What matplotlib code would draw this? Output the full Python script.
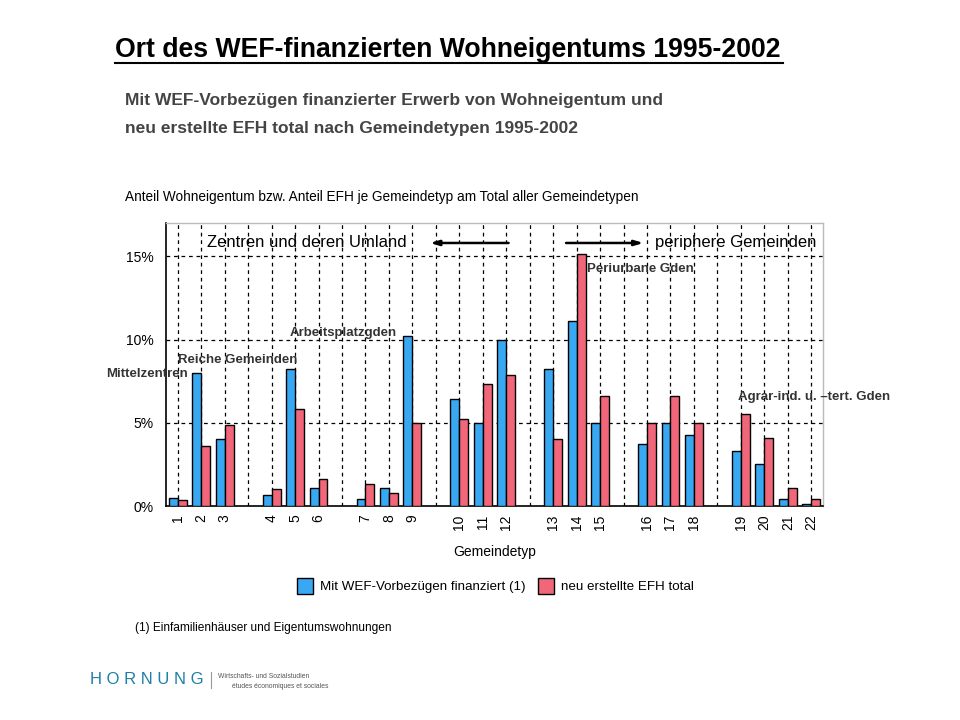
import numpy as np
import matplotlib
matplotlib.use("Agg")
import matplotlib.pyplot as plt
from matplotlib import font_manager

# fonts: narrow face if available
names = set(f.name for f in font_manager.fontManager.ttflist)
narrow = 'Liberation Sans Narrow' if 'Liberation Sans Narrow' in names else 'Liberation Sans'
plt.rcParams['font.family'] = ['Liberation Sans', 'DejaVu Sans']

# data (shares in %)
types = ['1', '2', '3', '4', '5', '6', '7', '8', '9', '10', '11',
         '12', '13', '14', '15', '16', '17', '18', '19', '20', '21', '22']
wef = [0.5, 8.0, 4.0, 0.65, 8.25, 1.1, 0.45, 1.1, 10.2, 6.4, 5.0,
       10.0, 8.25, 11.1, 5.0, 3.75, 5.0, 4.25, 3.3, 2.55, 0.45, 0.15]
efh = [0.35, 3.6, 4.85, 1.05, 5.85, 1.6, 1.3, 0.8, 5.0, 5.25, 7.35,
       7.85, 4.05, 15.15, 6.6, 5.0, 6.6, 5.0, 5.55, 4.1, 1.1, 0.45]
# group sizes (gap slot after each group)
groups = [3, 3, 3, 3, 3, 3, 4]

# slot positions with a gap between groups
pos = []
s = 0
for g in groups:
    for k in range(g):
        pos.append(s)
        s += 1
    s += 1
pos = np.array(pos)
nslots = s - 1

blue = '#38A8F2'
red = '#F2667A'

fig = plt.figure(figsize=(9.6, 7.2), dpi=100)
ax = fig.add_axes([166/960, 1-506/720, (823-166)/960, (506-223)/720])

w = 0.38
ax.bar(pos - w/2, wef, width=w, color=blue, edgecolor='black', linewidth=1.0, zorder=3)
ax.bar(pos + w/2, efh, width=w, color=red, edgecolor='black', linewidth=1.0, zorder=3)

ax.set_xlim(-0.5, nslots - 0.5)
ax.set_ylim(0, 17)

# dashed grid at every slot
for x in range(nslots):
    ax.axvline(x, color='black', lw=0.9, ls=(0, (3, 3)), zorder=1)
for y in [5, 10, 15]:
    ax.axhline(y, color='black', lw=0.9, ls=(0, (3, 3)), zorder=1)

ax.set_yticks([0, 5, 10, 15])
ax.set_yticklabels(['0%', '5%', '10%', '15%'], fontfamily=narrow, fontsize=10)
ax.set_xticks(pos)
ax.set_xticklabels(types, rotation=90, fontfamily=narrow, fontsize=10)
ax.tick_params(axis='x', length=0, pad=6)
ax.tick_params(axis='y', length=0, pad=9)

for side in ['top', 'right']:
    ax.spines[side].set_color('#bbbbbb')
    ax.spines[side].set_linewidth(1.0)
ax.spines['left'].set_linewidth(1.2)
ax.spines['bottom'].set_linewidth(1.2)

ax.set_xlabel('Gemeindetyp', fontfamily=narrow, fontsize=10, labelpad=11)

# region labels and arrows
ax.text(1.25, 15.8, 'Zentren und deren Umland', fontsize=12, fontfamily=narrow,
        va='center', ha='left', zorder=4)
ax.text(20.35, 15.8, 'periphere Gemeinden', fontsize=12, fontfamily=narrow,
        va='center', ha='left', zorder=4)
ax.annotate('', xy=(10.75, 15.8), xytext=(14.1, 15.8),
            arrowprops=dict(arrowstyle='-|>,head_length=0.5,head_width=0.15',
                            color='black', lw=1.8, shrinkA=0, shrinkB=0), zorder=4)
ax.annotate('', xy=(19.85, 15.8), xytext=(16.55, 15.8),
            arrowprops=dict(arrowstyle='-|>,head_length=0.5,head_width=0.15',
                            color='black', lw=1.8, shrinkA=0, shrinkB=0), zorder=4)

# group annotations
ann_color = '#333333'
fig.text(106/960, 1-374/720, 'Mittelzentren', fontsize=9.5, fontweight='bold',
         color=ann_color, va='center', ha='left')
fig.text(178/960, 1-360/720, 'Reiche Gemeinden', fontsize=9.5, fontweight='bold',
         color=ann_color, va='center', ha='left')
fig.text(290/960, 1-333/720, 'Arbeitsplatzgden', fontsize=9.5, fontweight='bold',
         color=ann_color, va='center', ha='left')
fig.text(587/960, 1-269/720, 'Periurbane Gden', fontsize=9.5, fontweight='bold',
         color=ann_color, va='center', ha='left')
fig.text(738/960, 1-397/720, 'Agrar-ind. u. \u2013tert. Gden', fontsize=9.5,
         fontweight='bold', color=ann_color, va='center', ha='left')

# titles
fig.text(115/960, 1-50/720, 'Ort des WEF-finanzierten Wohneigentums 1995-2002',
         fontsize=19.2, fontweight='bold', va='center', ha='left')
fig.add_artist(plt.Line2D([115/960, 783/960], [1-63/720, 1-63/720],
                          color='black', lw=1.5))
fig.text(125/960, 1-100/720, 'Mit WEF-Vorbezügen finanzierter Erwerb von Wohneigentum und',
         fontsize=12.5, fontweight='bold', fontfamily=narrow, color='#444444',
         va='center', ha='left')
fig.text(125/960, 1-128/720, 'neu erstellte EFH total nach Gemeindetypen 1995-2002',
         fontsize=12.5, fontweight='bold', fontfamily=narrow, color='#444444',
         va='center', ha='left')
fig.text(125/960, 1-197/720,
         'Anteil Wohneigentum bzw. Anteil EFH je Gemeindetyp am Total aller Gemeindetypen',
         fontsize=9.8, fontfamily=narrow, va='center', ha='left')

# legend
fig.patches.append(plt.Rectangle((297/960, 1-594/720), 16/960, 16/720, transform=fig.transFigure,
                                 facecolor=blue, edgecolor='black', lw=1))
fig.text(320/960, 1-587/720, 'Mit WEF-Vorbezügen finanziert (1)', fontsize=9.6,
         fontfamily=narrow, va='center', ha='left')
fig.patches.append(plt.Rectangle((538/960, 1-594/720), 16/960, 16/720, transform=fig.transFigure,
                                 facecolor=red, edgecolor='black', lw=1))
fig.text(561/960, 1-587/720, 'neu erstellte EFH total', fontsize=9.6,
         fontfamily=narrow, va='center', ha='left')

fig.text(135/960, 1-628/720, '(1) Einfamilienhäuser und Eigentumswohnungen',
         fontsize=8.6, fontfamily=narrow, va='center', ha='left')

# logo
teal = '#1f7fa6'
fig.text(90/960, 1-680/720, 'H O R N U N G', fontsize=12, color=teal,
         va='center', ha='left')
fig.add_artist(plt.Line2D([211/960, 211/960], [1-688/720, 1-672/720], color='#999999', lw=0.8))
fig.text(218/960, 1-676/720, 'Wirtschafts- und Sozialstudien', fontsize=4.9,
         color='#555555', va='center', ha='left')
fig.text(232/960, 1-686/720, 'études économiques et sociales', fontsize=4.9,
         color='#555555', va='center', ha='left')

fig.savefig('out.png', dpi=100)
